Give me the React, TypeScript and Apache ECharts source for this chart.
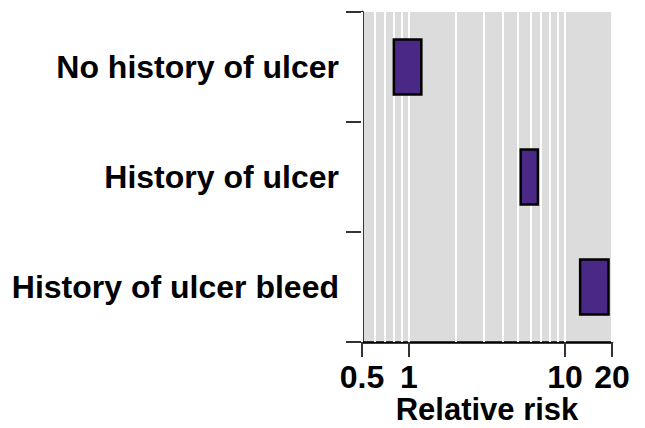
import React, { useEffect, useRef } from "react";
import * as echarts from "echarts";

const categories = ["No history of ulcer", "History of ulcer", "History of ulcer bleed"];
const lowerCI = [0.8, 5.2, 12.5];
const upperCI = [1.2, 6.7, 19.0];
const tickValues = [0.5, 1, 10, 20];
const gridValues = [0.5, 0.6, 0.7, 0.8, 0.9, 1, 2, 3, 4, 5, 6, 7, 8, 9, 10, 20];

const FONT = "'Liberation Sans', Arial, Helvetica, sans-serif";

export default function App() {
  const ref = useRef<HTMLDivElement>(null);
  useEffect(() => {
    if (!ref.current) return;
    const chart = echarts.init(ref.current, undefined, { renderer: "svg" });
    const data = categories.map((c, i) => [lowerCI[i], upperCI[i], c]);
    chart.setOption({
      animation: false,
      backgroundColor: "#ffffff",
      grid: {
        left: 362,
        right: 33,
        top: 12,
        bottom: 86,
        containLabel: false,
        outerBoundsMode: "none",
        show: true,
        backgroundColor: "#dcdcdc",
        borderWidth: 0,
      },
      xAxis: {
        type: "log",
        logBase: 10,
        min: 0.5,
        max: 20,
        name: "Relative risk",
        nameLocation: "middle",
        nameGap: 55,
        nameMoveOverlap: false,
        nameTextStyle: {
          fontFamily: FONT,
          fontWeight: "bold",
          fontSize: 31,
          lineHeight: 24,
          color: "#000",
        },
        axisLine: { show: true, lineStyle: { color: "#000", width: 2.5 } },
        axisTick: { show: true, length: 15, customValues: tickValues, lineStyle: { color: "#333", width: 2 } },
        axisLabel: {
          customValues: tickValues,
          margin: 23,
          fontFamily: FONT,
          fontWeight: "bold",
          fontSize: 32,
          lineHeight: 24,
          color: "#000",
          formatter: (v: number) => String(Math.round(v * 10) / 10),
        },
        splitLine: { show: false },
        minorTick: { show: false },
      },
      yAxis: {
        type: "category",
        data: categories,
        inverse: true,
        boundaryGap: true,
        axisLine: { show: true, lineStyle: { color: "#000", width: 2.5 } },
        axisTick: { show: true, length: 16, lineStyle: { color: "#333", width: 2 } },
        axisLabel: {
          margin: 23,
          fontFamily: FONT,
          fontWeight: "bold",
          fontSize: 32,
          color: "#000",
        },
        splitLine: { show: false },
      },
      series: [
        {
          type: "line",
          data: [],
          z: 1,
          silent: true,
          markLine: {
            silent: true,
            z: 1,
            symbol: "none",
            label: { show: false },
            lineStyle: { color: "#ffffff", width: 2, type: "solid" },
            data: gridValues.map((v) => ({ xAxis: v })),
          },
        },
        {
          type: "custom",
          z: 10,
          encode: { x: [0, 1], y: 2 },
          data,
          renderItem: (params: any, api: any) => {
            const cat = api.value(2);
            const p1 = api.coord([api.value(0), cat]);
            const p2 = api.coord([api.value(1), cat]);
            const h = api.size([0, 1])[1] * 0.5;
            return {
              type: "rect",
              shape: { x: p1[0], y: p1[1] - h / 2, width: p2[0] - p1[0], height: h },
              style: { fill: "#4a2886", stroke: "#000", lineWidth: 2.5 },
            };
          },
        },
      ],
    });
    return () => chart.dispose();
  }, []);
  return (
    <div
      ref={ref}
      style={{ position: "fixed", left: 0, top: 0, width: 645, height: 428 }}
    />
  );
}
